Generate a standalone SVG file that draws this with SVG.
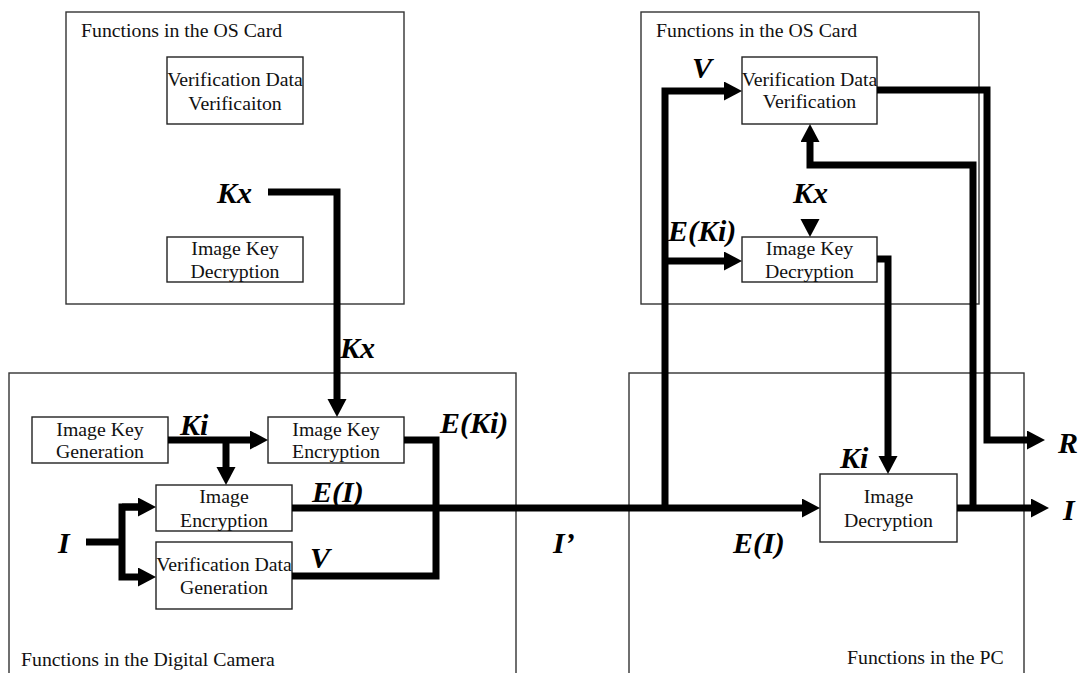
<svg xmlns="http://www.w3.org/2000/svg" width="1079" height="673" viewBox="0 0 1079 673">
<defs>
<style>
.frame{fill:none;stroke:#333;stroke-width:1.4}
.box{fill:#fff;stroke:#222;stroke-width:1.4}
.t{font-family:"Liberation Serif","Times New Roman",serif;font-size:19.8px;fill:#111}
.tc{font-family:"Liberation Serif","Times New Roman",serif;font-size:19.8px;fill:#111;text-anchor:middle}
.lb{font-family:"Liberation Serif","Times New Roman",serif;font-size:30px;font-weight:bold;font-style:italic;fill:#000}
.c{fill:none;stroke:#000;stroke-width:7;stroke-linejoin:miter;stroke-linecap:butt}
</style>
<marker id="ah" markerUnits="userSpaceOnUse" markerWidth="20" markerHeight="20" refX="0" refY="9.5" orient="auto">
<path d="M0,0 L18,9.5 L0,19 z" fill="#000"/>
</marker>
</defs>
<rect width="1079" height="673" fill="#fff"/>

<g id="os-card-left">
<rect class="frame" x="66" y="12" width="338" height="292"/>
<text class="t" x="81" y="37">Functions in the OS Card</text>
</g>
<g id="os-card-right">
<rect class="frame" x="641" y="12" width="338" height="292"/>
<text class="t" x="656" y="37">Functions in the OS Card</text>
</g>
<g id="camera">
<rect class="frame" x="9" y="373" width="507" height="320"/>
<text class="t" x="21" y="666">Functions in the Digital Camera</text>
</g>
<g id="pc">
<rect class="frame" x="629" y="373" width="395" height="320"/>
<text class="t" x="847" y="664">Functions in the PC</text>
</g>

<g id="vdv-left">
<rect class="box" x="167" y="57" width="136" height="67"/>
<text class="tc" x="235" y="86">Verification Data</text>
<text class="tc" x="235" y="110">Verificaiton</text>
</g>
<g id="ikd-left">
<rect class="box" x="167" y="237" width="136" height="45"/>
<text class="tc" x="235" y="255">Image Key</text>
<text class="tc" x="235" y="278">Decryption</text>
</g>
<g id="vdv-right">
<rect class="box" x="742" y="57" width="135" height="67"/>
<text class="tc" x="809.5" y="86">Verification Data</text>
<text class="tc" x="809.5" y="108">Verification</text>
</g>
<g id="ikd-right">
<rect class="box" x="742" y="237" width="135" height="45"/>
<text class="tc" x="809.5" y="255">Image Key</text>
<text class="tc" x="809.5" y="278">Decryption</text>
</g>
<g id="ikg">
<rect class="box" x="32" y="417" width="136" height="46"/>
<text class="tc" x="100" y="436">Image Key</text>
<text class="tc" x="100" y="458">Generation</text>
</g>
<g id="ike">
<rect class="box" x="268" y="417" width="136" height="46"/>
<text class="tc" x="336" y="436">Image Key</text>
<text class="tc" x="336" y="458">Encryption</text>
</g>
<g id="ie">
<rect class="box" x="156" y="485" width="136" height="46"/>
<text class="tc" x="224" y="503">Image</text>
<text class="tc" x="224" y="527">Encryption</text>
</g>
<g id="vdg">
<rect class="box" x="156" y="542" width="136" height="67"/>
<text class="tc" x="224" y="571">Verification Data</text>
<text class="tc" x="224" y="594">Generation</text>
</g>
<g id="id">
<rect class="box" x="820" y="474" width="137" height="68"/>
<text class="tc" x="888.5" y="503">Image</text>
<text class="tc" x="888.5" y="527">Decryption</text>
</g>

<g id="connectors">
<path class="c" d="M268,192 H337 V399" marker-end="url(#ah)"/>
<path class="c" d="M168,440 H250" marker-end="url(#ah)"/>
<path class="c" d="M226,440 V467" marker-end="url(#ah)"/>
<path class="c" d="M404,440 H436 V576 H292"/>
<path class="c" d="M292,508 H802" marker-end="url(#ah)"/>
<path class="c" d="M86,542 H122"/>
<path class="c" d="M138,507 H122 V577 H138" marker-end="url(#ah)"/>
<path class="c" d="M122,507 H138" marker-end="url(#ah)"/>
<path class="c" d="M665,508 V91 H724" marker-end="url(#ah)"/>
<path class="c" d="M665,261 H724" marker-end="url(#ah)"/>
<path class="c" d="M877,90 H987 V440 H1027" marker-end="url(#ah)"/>
<path class="c" d="M973,508 V165 H810 V142" marker-end="url(#ah)"/>
<path d="M800.5,219 L819.5,219 L810,237 z" fill="#000"/>
<path class="c" d="M877,259 H888 V456" marker-end="url(#ah)"/>
<path class="c" d="M957,508 H1031" marker-end="url(#ah)"/>
</g>

<g id="labels">
<text class="lb" x="217" y="203">Kx</text>
<text class="lb" x="340" y="358">Kx</text>
<text class="lb" x="180" y="435">Ki</text>
<text class="lb" x="440" y="433">E(Ki)</text>
<text class="lb" x="312" y="502">E(I)</text>
<text class="lb" x="310" y="568">V</text>
<text class="lb" x="58" y="553">I</text>
<text class="lb" x="553" y="553">I’</text>
<text class="lb" x="733" y="553">E(I)</text>
<text class="lb" x="692" y="78">V</text>
<text class="lb" x="793" y="203">Kx</text>
<text class="lb" x="668" y="241">E(Ki)</text>
<text class="lb" x="840" y="468">Ki</text>
<text class="lb" x="1058" y="453">R</text>
<text class="lb" x="1063" y="520">I</text>
</g>
</svg>
